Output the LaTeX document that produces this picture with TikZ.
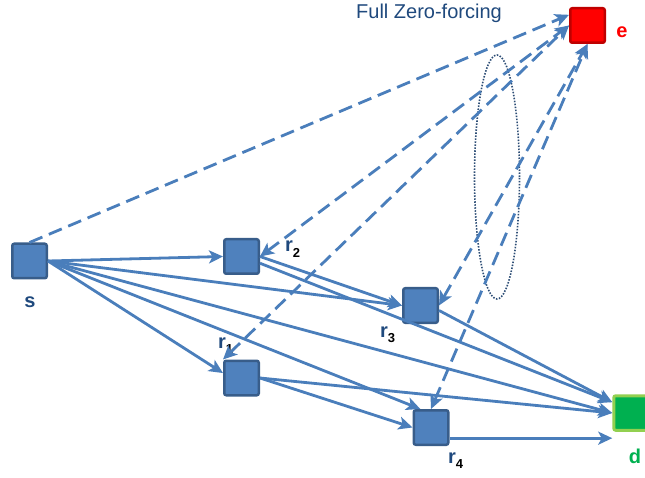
\documentclass[tikz,border=0pt]{standalone}
\usepackage{fontspec}
\setmainfont{Liberation Sans}
\usetikzlibrary{arrows.meta,calc}
\definecolor{nodeblue}{HTML}{4F81BD}
\definecolor{nodeedge}{HTML}{385D8A}
\definecolor{linkblue}{HTML}{4A7EBB}
\definecolor{textblue}{HTML}{1F497D}
\definecolor{evered}{HTML}{FF0000}
\definecolor{eveedge}{HTML}{C00000}
\definecolor{destgreen}{HTML}{00B050}
\definecolor{destedge}{HTML}{92D050}
\definecolor{zfdots}{HTML}{2C4D75}
\newcommand{\relaylab}[1]{r\raisebox{-0.5ex}{\color{black}\fontsize{13}{13}\selectfont #1}}

\begin{document}
\begin{tikzpicture}[x=1pt,y=-1pt,>={Stealth[length=14pt,width=13pt,inset=3.5pt]},
        box/.style={rectangle,rounded corners=2pt,minimum size=34.5pt,inner sep=0pt,
          line width=2.5pt,draw=nodeedge,fill=nodeblue},
        link/.style={->,line width=2.8pt,draw=linkblue},
        leak/.style={link,dash pattern=on 14pt off 7pt},
        lbl/.style={font=\fontsize{20}{22}\selectfont\bfseries,text=textblue,inner sep=0pt}]
        \useasboundingbox (0,0) rectangle (645,478);
        \node[box] (s)  at (29.5,261)  {};
        \node[box] (r2) at (241.5,256.5) {};
        \node[box] (r1) at (241.5,378) {};
        \node[box] (r3) at (420.5,305.5) {};
        \node[box] (r4) at (431,427.5) {};
        \node[box,draw=destedge,fill=destgreen,line width=3pt] (d) at (631,413) {};
        \node[box,draw=eveedge,fill=evered] (e) at (587.5,25.5) {};
        \coordinate (dfoot) at (r4.-30 -| d.west);
        % labels
        \node[lbl,anchor=base] (slab) at (30,308) {s};
        \node[lbl,anchor=base,text=evered] (elab) at (622,38) {e};
        \node[lbl,anchor=base,text=destgreen] (dlab) at (635,463) {d};
        \node[lbl,anchor=base west] (r1lab) at (218,348) {\relaylab{1}};
        \node[lbl,anchor=base west] (r2lab) at (285,252) {\relaylab{2}};
        \node[lbl,anchor=base west] (r3lab) at (380,337) {\relaylab{3}};
        \node[lbl,anchor=base west] (r4lab) at (448,463) {\relaylab{4}};
        \node[anchor=base,font=\fontsize{20}{24}\selectfont,text=textblue,inner sep=0pt]
          (zf) at (429,19) {Full Zero-forcing};
        % group of leaking links
        \draw[zfdots,line width=1.6pt,dash pattern=on 1.5pt off 1.5pt]
          (497,177) ellipse [x radius=22.5pt,y radius=122pt];
        % first hop and relay links
        \path[every edge/.style={link}]
          (s.east) edge (r2.west)
          (s.east) edge (r3.west)
          (s.east) edge (d.west)
          (s.east) edge (r4.120)
          (s.east) edge (r1.165)
          (r2.east) edge (r3.west)
          (r2.-20) edge (d.150)
          (r3.-15) edge (d.150)
          (r1.east) edge (d.west)
          (r1.east) edge (r4.west)
          (r4.-30) edge (dfoot);
        % to the eavesdropper
        \path[every edge/.style={leak}]
          (s.north) edge (e.150)
          (r2.east) edge[<->] (e.west)
          (r1.north west) edge[<->] (e.west)
          (r3.east) edge[<->] (e.south)
          (r4.north) edge[<->] (e.south);
      \end{tikzpicture}
\end{document}
